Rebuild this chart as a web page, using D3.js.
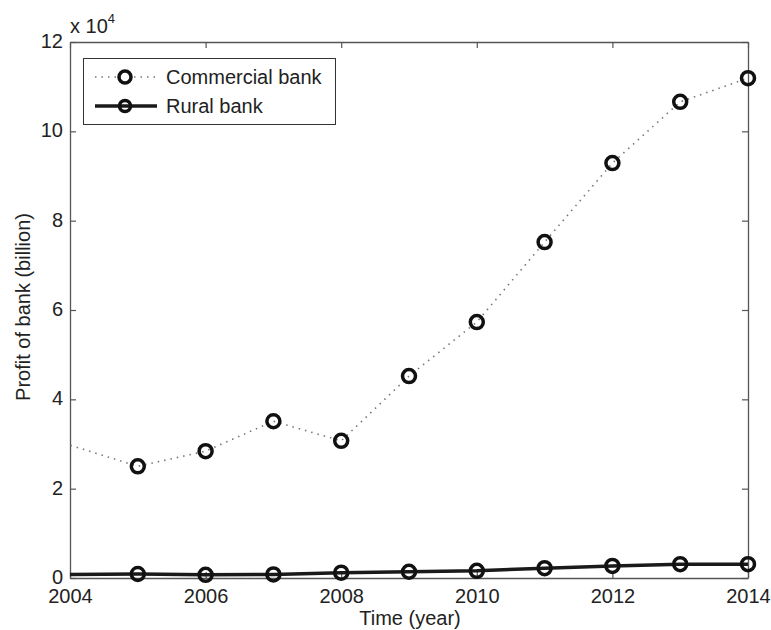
<!DOCTYPE html>
<html><head><meta charset="utf-8">
<script src="https://cdn.jsdelivr.net/npm/d3@7"></script>
<style>body{margin:0;background:#fff}svg{display:block}text{font-family:"Liberation Sans",Arial,sans-serif;fill:#222}</style>
</head><body><svg id="c" width="771" height="630"></svg>
<script>
const years = [2003,2004,2005,2006,2007,2008,2009,2010,2011,2012,2013,2014];
const commercial = [34500,null,25000,28400,35100,30700,45200,57300,75200,92900,106600,111900];
const rural = [700,null,900,700,800,1200,1400,1600,2200,2700,3100,3100];
const xTicks = [2004,2006,2008,2010,2012,2014];
const yTicks = [0,20000,40000,60000,80000,100000,120000];
const seriesNames = ["Commercial bank","Rural bank"];

const svg = d3.select("#c");
const m = {l:70, r:748, t:42, b:578};
const x = d3.scaleLinear().domain([2004,2014]).range([m.l,m.r]);
const y = d3.scaleLinear().domain([0,120000]).range([m.b,m.t]);
const axisCol = "#555";
const FS = 20;

svg.append("defs").append("clipPath").attr("id","clip").append("rect")
  .attr("x",m.l).attr("y",m.t).attr("width",m.r-m.l).attr("height",m.b-m.t);

const fmtY = d => d/10000;
const gB = svg.append("g").attr("transform",`translate(0,${m.b})`)
  .call(d3.axisBottom(x).tickValues(xTicks).tickFormat(d3.format("d")).tickSizeInner(-6).tickSizeOuter(0).tickPadding(11));
const gT = svg.append("g").attr("transform",`translate(0,${m.t})`)
  .call(d3.axisTop(x).tickValues(xTicks).tickFormat("").tickSizeInner(-6).tickSizeOuter(0));
const gL = svg.append("g").attr("transform",`translate(${m.l},0)`)
  .call(d3.axisLeft(y).tickValues(yTicks).tickFormat(fmtY).tickSizeInner(-6).tickSizeOuter(0).tickPadding(7));
const gR = svg.append("g").attr("transform",`translate(${m.r},0)`)
  .call(d3.axisRight(y).tickValues(yTicks).tickFormat("").tickSizeInner(-6).tickSizeOuter(0));
[gB,gT,gL,gR].forEach(g=>{
  g.select(".domain").attr("stroke",axisCol).attr("stroke-width",1.3);
  g.selectAll(".tick line").attr("stroke",axisCol).attr("stroke-width",1.2);
  g.selectAll(".tick text").attr("font-size",FS).attr("fill","#222").attr("font-family","Liberation Sans, Arial, sans-serif");
});
gL.selectAll(".tick text").attr("dy","0.28em");

// labels
svg.append("text").attr("x",410).attr("y",625).attr("text-anchor","middle").attr("font-size",FS).text("Time (year)");
svg.append("text").attr("transform","translate(30,307) rotate(-90)").attr("text-anchor","middle").attr("font-size",FS).text("Profit of bank (billion)");
const ex = svg.append("text").attr("x",70).attr("y",33).attr("font-size",FS);
ex.append("tspan").text("x 10");
ex.append("tspan").attr("font-size",13).attr("dy",-10).text("4");

const plot = svg.append("g").attr("clip-path","url(#clip)");
function pts(vals){ return years.map((yr,i)=>({x:yr,v:vals[i]})).filter(d=>d.v!==null); }
const line = d3.line().x(d=>x(d.x)).y(d=>y(d.v));

plot.append("path").datum(pts(commercial)).attr("d",line).attr("fill","none")
  .attr("stroke","#777").attr("stroke-width",1.6).attr("stroke-dasharray","1.5,5");
plot.append("path").datum(pts(rural)).attr("d",line).attr("fill","none")
  .attr("stroke","#1a1a1a").attr("stroke-width",3.5);

const mk = svg.append("g");
[commercial,rural].forEach(vals=>{
  mk.selectAll(null).data(pts(vals).filter(d=>d.x>=2004&&d.x<=2014)).enter().append("circle")
    .attr("cx",d=>x(d.x)).attr("cy",d=>y(d.v)).attr("r",6.5)
    .attr("fill","none").attr("stroke","#111").attr("stroke-width",3.5);
});

// legend
const lg = svg.append("g");
lg.append("rect").attr("x",83.5).attr("y",58.5).attr("width",252).attr("height",66)
  .attr("fill","#fff").attr("stroke","#333").attr("stroke-width",1);
const rows = [{n:seriesNames[0],y:77,dot:true},{n:seriesNames[1],y:106,dot:false}];
rows.forEach(r=>{
  lg.append("line").attr("x1",95).attr("x2",157).attr("y1",r.y).attr("y2",r.y)
    .attr("stroke",r.dot?"#777":"#1a1a1a").attr("stroke-width",r.dot?1.6:3.5)
    .attr("stroke-dasharray",r.dot?"1.5,5":null);
  lg.append("circle").attr("cx",125).attr("cy",r.y).attr("r",r.dot?6:5.5)
    .attr("fill",r.dot?"#fff":"none").attr("stroke","#111").attr("stroke-width",3.5);
  lg.append("text").attr("x",166).attr("y",r.y).attr("dy","0.36em").attr("font-size",FS).text(r.n);
});
</script></body></html>
